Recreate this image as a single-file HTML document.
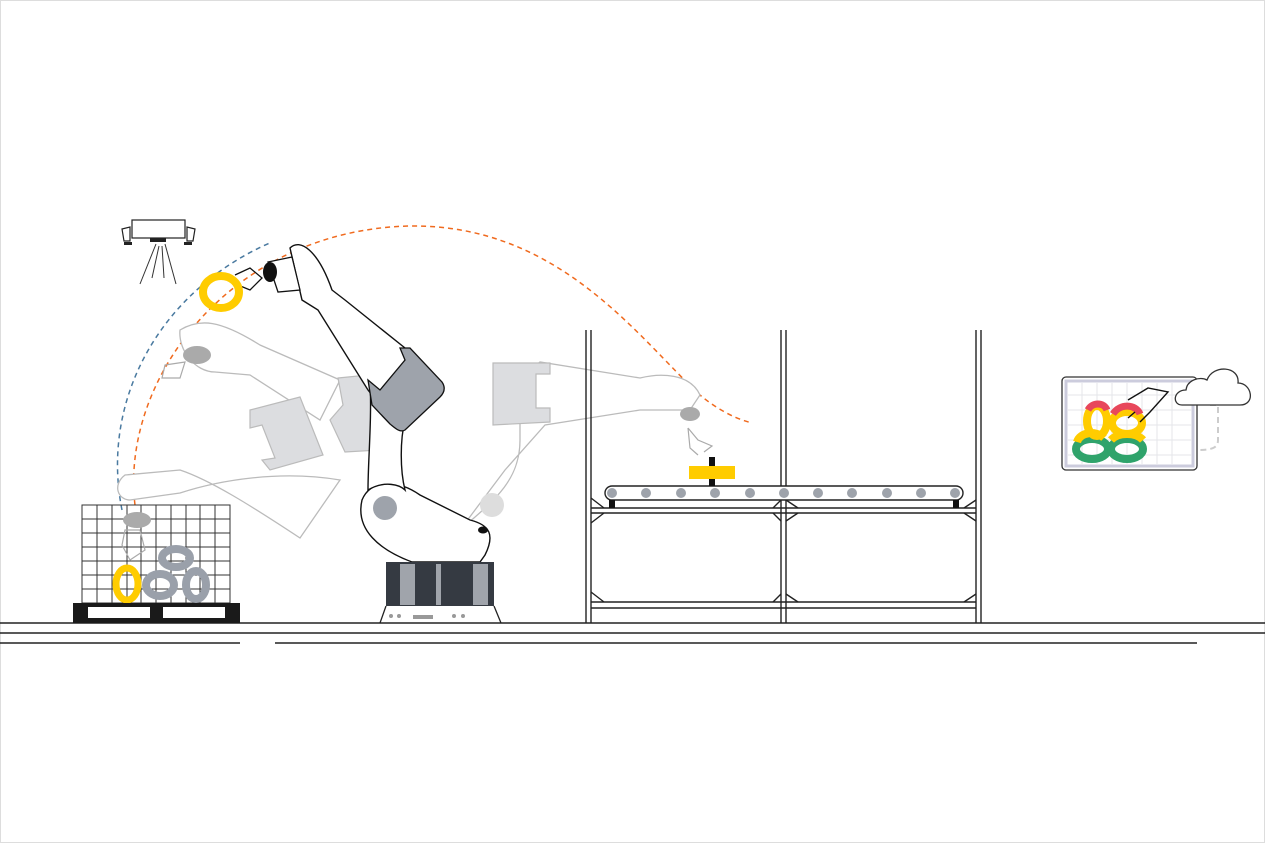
<!DOCTYPE html>
<html><head><meta charset="utf-8"><style>html,body{margin:0;padding:0;background:#fff}svg{display:block}</style></head>
<body>
<svg width="1265" height="843" viewBox="0 0 1265 843" xmlns="http://www.w3.org/2000/svg">
<rect x="0.5" y="0.5" width="1264" height="842" fill="#fff" stroke="#ddd"/>
<g stroke="#222" stroke-width="1.5">
<line x1="0" y1="623" x2="1265" y2="623"/>
<line x1="0" y1="633" x2="1265" y2="633"/>
<line x1="0" y1="643" x2="240" y2="643"/>
<line x1="275" y1="643" x2="1197" y2="643"/>
</g>
<g stroke="#222" stroke-width="1.2" fill="#fff">
<rect x="132" y="220" width="53" height="18"/>
<path d="M122 229 L130 227 L130 241 L124 241 Z"/><path d="M195 229 L187 227 L187 241 L193 241 Z"/>
</g>
<rect x="150" y="238" width="16" height="4" fill="#222"/><rect x="124" y="242" width="8" height="3" fill="#222"/><rect x="184" y="242" width="8" height="3" fill="#222"/>
<g stroke="#333" stroke-width="1"><line x1="156" y1="244" x2="140" y2="284"/><line x1="159" y1="246" x2="152" y2="278"/><line x1="162" y1="246" x2="164" y2="278"/><line x1="165" y1="244" x2="176" y2="284"/></g>
<path d="M122 510 C100 400 160 290 272 242" fill="none" stroke="#4a7aa0" stroke-width="1.5" stroke-dasharray="5 4"/>
<path d="M135 505 C120 380 230 230 410 226 C560 224 640 340 700 395 C720 412 740 420 752 423" fill="none" stroke="#f06a1e" stroke-width="1.5" stroke-dasharray="5 4"/>
<g stroke="#333" stroke-width="1" fill="none">
<rect x="82" y="505" width="148" height="98"/>
<path d="M97 505V603M112 505V603M127 505V603M141 505V603M156 505V603M171 505V603M186 505V603M200 505V603M215 505V603"/>
<path d="M82 519H230M82 533H230M82 547H230M82 561H230M82 575H230M82 589H230"/>
</g>
<g fill="none" stroke="#9aa0aa" stroke-width="8">
<ellipse cx="176" cy="558" rx="14" ry="9"/><ellipse cx="160" cy="585" rx="14" ry="11"/><ellipse cx="196" cy="585" rx="10" ry="14"/>
</g>
<ellipse cx="127" cy="584" rx="11" ry="16" fill="none" stroke="#ffcc00" stroke-width="7"/>
<rect x="73" y="603" width="167" height="20" fill="#1a1a1a"/>
<rect x="88" y="607" width="62" height="11" fill="#fff"/><rect x="163" y="607" width="62" height="11" fill="#fff"/>
<g fill="#fff" stroke="#bbb" stroke-width="1.3">
<path d="M300 538 C250 505 210 480 180 470 L125 475 C112 485 118 500 130 500 L180 493 C220 480 280 470 340 480 Z"/>
<path d="M180 330 C200 318 220 320 260 345 L340 380 L320 420 L250 375 L215 372 C195 372 178 350 180 330 Z"/>
<path d="M460 530 C495 500 520 480 520 440 L520 380 L540 362 L640 378 C660 373 690 373 700 395 L690 410 L640 410 L545 425 L505 470 Z"/>
</g>
<g fill="#dcdde0" stroke="#bbb" stroke-width="1.2">
<path d="M250 410 L300 397 L323 455 L270 470 L262 460 L275 458 L262 425 L250 428 Z"/>
<path d="M338 378 L368 375 L380 450 L345 452 L330 420 L343 405 Z"/>
<path d="M493 363 L550 363 L550 374 L536 374 L536 408 L550 408 L550 422 L493 425 Z"/>
</g>
<g fill="#aaa"><ellipse cx="197" cy="355" rx="14" ry="9"/><ellipse cx="137" cy="520" rx="14" ry="8"/><ellipse cx="690" cy="414" rx="10" ry="7"/></g>
<g fill="none" stroke="#aaa" stroke-width="1.2"><path d="M165 365 L185 362 L180 378 L162 378 Z"/><path d="M125 530 L140 530 L145 550 L130 560 L122 545 Z"/><path d="M688 428 L698 440 L712 446 L704 452 M688 428 L690 448 L698 455"/></g>
<circle cx="492" cy="505" r="12" fill="#ddd"/>
<g fill="#fff" stroke="#111" stroke-width="1.4">
<path d="M362 500 C370 480 395 478 420 495 L470 520 C490 525 495 535 485 555 L480 562 L412 562 C380 550 355 530 362 500 Z"/>
<path d="M370 380 C372 420 368 460 368 490 C385 480 400 485 405 490 C400 470 400 440 405 420 Z"/>
<path d="M290 248 C300 238 318 250 332 290 L345 300 L405 348 L440 385 L400 430 L368 390 L318 310 L302 300 Z"/>
</g>
<path d="M368 380 L380 390 L405 360 L400 348 L410 348 L442 382 C446 388 444 393 440 397 L405 430 C400 433 395 428 390 424 L372 405 Z" fill="#9ea3ab" stroke="#111" stroke-width="1.3"/>
<circle cx="385" cy="508" r="12" fill="#9ea3ab"/>
<ellipse cx="483" cy="530" rx="5" ry="3.5" fill="#111"/>
<path d="M268 262 L292 257 L300 290 L278 292 Z" fill="#fff" stroke="#111" stroke-width="1.3"/>
<ellipse cx="270" cy="272" rx="7" ry="10" fill="#111"/>
<path d="M235 275 L250 268 L262 278 L250 290 L238 285" fill="none" stroke="#111" stroke-width="1.3"/>
<ellipse cx="221" cy="292" rx="18" ry="16" fill="none" stroke="#ffcc00" stroke-width="8"/>
<rect x="386" y="562" width="108" height="44" fill="#353a42"/>
<rect x="400" y="564" width="15" height="41" fill="#a0a4ab"/><rect x="436" y="564" width="5" height="41" fill="#a0a4ab"/><rect x="473" y="564" width="15" height="41" fill="#a0a4ab"/>
<path d="M386 606 L380 623 M494 606 L501 623" stroke="#222" stroke-width="1.3"/>
<g fill="#999"><circle cx="391" cy="616" r="2"/><circle cx="399" cy="616" r="2"/><circle cx="454" cy="616" r="2"/><circle cx="463" cy="616" r="2"/><rect x="413" y="615" width="20" height="4"/></g>
<g stroke="#222" stroke-width="1.4" fill="none">
<path d="M586 330V623M591 330V623M781 330V623M786 330V623M976 330V623M981 330V623"/>
<path d="M591 508H976M591 513H976M591 602H976M591 608H976"/>
<path d="M591 498L604 508M591 523L604 513M773 508L781 500M773 513L781 521M786 500L798 508M786 521L798 513M964 508L976 500M964 513L976 521M591 592L604 602M773 602L781 594M786 594L798 602M964 602L976 594"/>
</g>
<rect x="605" y="486" width="358" height="14" rx="7" fill="#fff" stroke="#222" stroke-width="1.4"/>
<g fill="#9ea3ab"><circle cx="612" cy="493" r="5"/><circle cx="646" cy="493" r="5"/><circle cx="681" cy="493" r="5"/><circle cx="715" cy="493" r="5"/><circle cx="750" cy="493" r="5"/><circle cx="784" cy="493" r="5"/><circle cx="818" cy="493" r="5"/><circle cx="852" cy="493" r="5"/><circle cx="887" cy="493" r="5"/><circle cx="921" cy="493" r="5"/><circle cx="955" cy="493" r="5"/></g>
<rect x="609" y="500" width="6" height="8" fill="#111"/><rect x="953" y="500" width="6" height="8" fill="#111"/>
<rect x="709" y="457" width="6" height="29" fill="#111"/>
<rect x="689" y="466" width="46" height="13" fill="#ffcc00"/>
<rect x="1062" y="377" width="135" height="93" rx="4" fill="#fff" stroke="#333" stroke-width="1.3"/>
<rect x="1066" y="381" width="127" height="85" fill="#fff" stroke="#ccd" stroke-width="3"/>
<g stroke="#e4e6ea" stroke-width="1"><path d="M1082 383V464M1097 383V464M1112 383V464M1127 383V464M1142 383V464M1157 383V464M1172 383V464M1068 395H1192M1068 410H1192M1068 425H1192M1068 440H1192M1068 455H1192"/></g>
<g fill="none" stroke-width="8">
<ellipse cx="1092" cy="449" rx="16" ry="10" stroke="#2fa36b"/><ellipse cx="1127" cy="449" rx="16" ry="10" stroke="#2fa36b"/>
<ellipse cx="1097" cy="421" rx="10" ry="15" stroke="#ffcc00"/><ellipse cx="1127" cy="423" rx="15" ry="11" stroke="#ffcc00"/>
</g>
<path d="M1077 442 C1080 432 1096 430 1104 438 M1111 440 C1118 432 1136 432 1143 440" stroke="#ffcc00" stroke-width="8" fill="none"/>
<path d="M1088 410 C1092 402 1104 402 1107 410" stroke="#e8475b" stroke-width="7" fill="none"/>
<path d="M1113 414 C1120 403 1136 404 1140 414" stroke="#e8475b" stroke-width="7" fill="none"/>
<path d="M1128 400 L1148 388 L1168 392 L1150 412 L1140 422 M1135 412 L1128 418" fill="none" stroke="#111" stroke-width="1.4"/>
<path d="M1210 405 L1218 405 L1218 440 C1218 448 1212 450 1197 450" fill="none" stroke="#ccc" stroke-width="2" stroke-dasharray="6 4"/>
<path d="M1182 405 C1172 405 1173 390 1186 390 C1187 380 1200 376 1207 380 C1213 364 1240 366 1238 383 C1252 383 1256 405 1240 405 Z" fill="#fff" stroke="#333" stroke-width="1.3"/>
</svg>
</body></html>
